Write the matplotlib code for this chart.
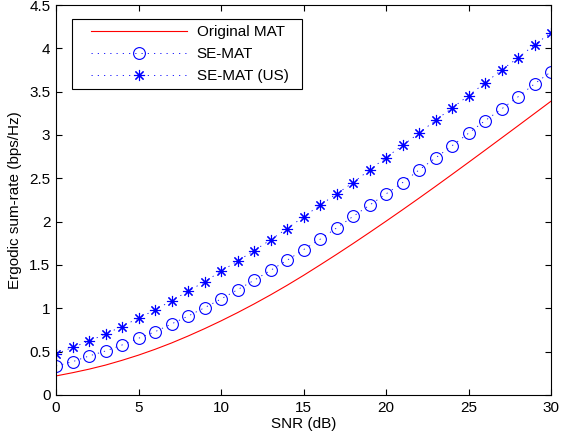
import numpy as np
import matplotlib
matplotlib.use('Agg')
import matplotlib.pyplot as plt
from matplotlib.legend_handler import HandlerLine2D

plt.rcParams['font.family'] = ['Liberation Sans', 'DejaVu Sans']

# data
snr = list(range(0, 31))
original_mat = [0.22, 0.257, 0.298, 0.345, 0.40, 0.46, 0.527, 0.60, 0.68, 0.765,
                0.855, 0.95, 1.05, 1.155, 1.265, 1.38, 1.50, 1.622, 1.747, 1.875,
                2.005, 2.137, 2.271, 2.407, 2.545, 2.684, 2.824, 2.965, 3.106, 3.248, 3.39]
se_mat = [0.335, 0.384, 0.45, 0.508, 0.577, 0.654, 0.73, 0.82, 0.91, 1.007,
          1.108, 1.215, 1.323, 1.438, 1.554, 1.677, 1.796, 1.927, 2.06, 2.19,
          2.32, 2.45, 2.596, 2.735, 2.876, 3.02, 3.165, 3.30, 3.44, 3.59, 3.73]
se_mat_us = [0.473, 0.55, 0.62, 0.704, 0.79, 0.888, 0.98, 1.088, 1.196, 1.307,
             1.427, 1.546, 1.665, 1.79, 1.92, 2.055, 2.19, 2.32, 2.45, 2.596,
             2.74, 2.88, 3.02, 3.17, 3.31, 3.455, 3.60, 3.75, 3.89, 4.04, 4.18]


# legend handle pushed a bit to the right, like matlab does
class ShiftedHandler(HandlerLine2D):
    def create_artists(self, legend, orig_handle, xdescent, ydescent,
                       width, height, fontsize, trans):
        off = width * 0.12
        return super().create_artists(legend, orig_handle, xdescent - off, ydescent,
                                      width - off, height, fontsize, trans)


fig = plt.figure(figsize=(5.61, 4.43), dpi=100)
ax = fig.add_axes([56/561, 48/443, 495/561, 390/443])

dots = (0, (1.5, 6))
l1, = ax.plot(snr, original_mat, color='red', lw=0.8, label='Original MAT')
l2, = ax.plot(snr, se_mat, color='blue', ls=dots, lw=0.6, marker='o', ms=8.5,
              mfc='none', mec='blue', mew=0.8, label='SE-MAT')
l3, = ax.plot(snr, se_mat_us, color='blue', ls=dots, lw=0.6, marker=(8, 2, 0), ms=8,
              mec='blue', mew=0.8, label='SE-MAT (US)')

ax.set_xlim(0, 30)
ax.set_ylim(0, 4.5)
ax.set_xticks(range(0, 31, 5))
ax.set_yticks(np.arange(0, 4.51, 0.5))
ax.set_yticklabels(['0', '0.5', '1', '1.5', '2', '2.5', '3', '3.5', '4', '4.5'])
ax.tick_params(direction='in', top=True, right=True, labelsize=11, length=4, pad=4)
for s in ax.spines.values():
    s.set_linewidth(0.8)

ax.set_xlabel('SNR (dB)', fontsize=11, labelpad=2)
ax.set_ylabel('Ergodic sum-rate (bps/Hz)', fontsize=11, labelpad=5)

leg = ax.legend(handler_map={l1: ShiftedHandler(), l2: ShiftedHandler(), l3: ShiftedHandler()},
                loc='upper left', bbox_to_anchor=(0.0323, 0.964 - 0.177, 0.4646, 0.177),
                mode='expand', fontsize=11,
                handlelength=7.1, handletextpad=0.65, labelspacing=0.52,
                borderaxespad=0, fancybox=False, edgecolor='black',
                framealpha=1, borderpad=0.4)
leg.get_frame().set_linewidth(0.8)

fig.savefig('out.png', dpi=100)
